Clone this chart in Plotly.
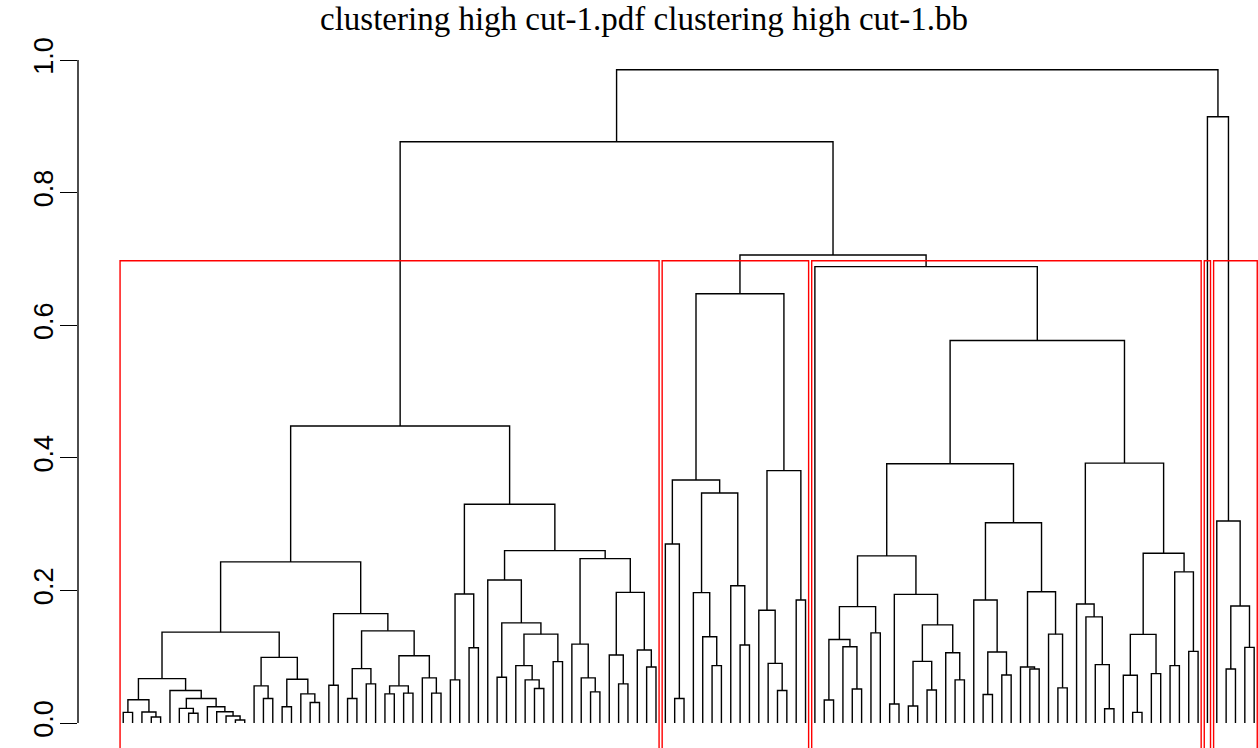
import plotly.graph_objects as go

# ---- data: hierarchical clustering (R hclust style) ----
# leaves are numbered 1..122 in plotted order; negative = leaf, positive = earlier merge (1-based)
n_leaves = 122
merges = [
    (-1, -2), (-4, -5), (-3, 2), (1, 3), (-8, -9), (-7, 5), (-13, -14), (-12, 7), (-11, 8), (-10, 9),
    (6, 10), (-6, 11), (4, 12), (-16, -17), (-15, 14), (-18, -19), (-21, -22), (-20, 17), (16, 18), (15, 19),
    (13, 20), (-23, -24), (-25, -26), (-27, -28), (23, 24), (-29, -30), (-31, -32), (26, 27), (-34, -35), (-33, 29),
    (28, 30), (25, 31), (22, 32), (21, 33), (-36, -37), (-38, -39), (35, 36), (-41, -42), (-45, -46), (-44, 39),
    (-43, 40), (-47, -48), (41, 42), (38, 43), (-40, 44), (-51, -52), (-50, 46), (-49, 47), (-54, -55), (-53, 49),
    (-57, -58), (-56, 51), (50, 52), (48, 53), (45, 54), (37, 55), (34, 56),
    (-60, -61), (-59, 58), (-64, -65), (-63, 60), (-62, 61), (-67, -68), (-66, 63), (62, 64), (59, 65),
    (-71, -72), (-70, 67), (-69, 68), (-73, -74), (69, 70), (66, 71),
    (-76, -77), (-79, -80), (-78, 74), (73, 75), (-81, -82), (76, 77), (-83, -84), (-85, -86), (-87, -88), (80, 81),
    (-90, -91), (-89, 83), (82, 84), (79, 85), (78, 86), (-93, -94), (-95, -96), (88, 89), (-92, 90), (-98, -99),
    (-97, 92), (-101, -102), (-100, 94), (93, 95), (91, 96), (87, 97), (-106, -107), (-105, 99), (-104, 100), (-103, 101),
    (-109, -110), (-108, 103), (-111, -112), (104, 105), (-113, -114), (-115, -116), (107, 108), (106, 109), (102, 110), (98, 111),
    (-75, 112), (72, 113), (57, 114),
    (-119, -120), (-121, -122), (116, 117), (-118, 118), (-117, 119), (115, 120),
]
heights = [
    0.016, 0.009, 0.0165, 0.035, 0.0146, 0.022, 0.0045, 0.0106, 0.017, 0.0246,
    0.037, 0.049, 0.067, 0.037, 0.056, 0.0246, 0.031, 0.044, 0.066, 0.099,
    0.137, 0.057, 0.037, 0.059, 0.082, 0.044, 0.045, 0.056, 0.045, 0.068,
    0.1015, 0.139, 0.165, 0.243, 0.065, 0.1136, 0.1945, 0.069, 0.052, 0.065,
    0.0865, 0.0925, 0.134, 0.151, 0.2157, 0.047, 0.068, 0.119, 0.059, 0.1025,
    0.0845, 0.110, 0.197, 0.248, 0.260, 0.330, 0.448,
    0.037, 0.270, 0.0865, 0.130, 0.1966, 0.1176, 0.207, 0.347, 0.3665,
    0.049, 0.090, 0.170, 0.1855, 0.3806, 0.6475,
    0.0347, 0.0513, 0.115, 0.126, 0.136, 0.1755, 0.0287, 0.0256, 0.0498, 0.093,
    0.065, 0.106, 0.148, 0.194, 0.252, 0.043, 0.0724, 0.107, 0.1855, 0.0814,
    0.0844, 0.053, 0.134, 0.198, 0.302, 0.391, 0.0216, 0.088, 0.160, 0.1795,
    0.016, 0.072, 0.0744, 0.1337, 0.0865, 0.108, 0.228, 0.256, 0.392, 0.577,
    0.6883, 0.7059, 0.8768,
    0.0814, 0.114, 0.1765, 0.3047, 0.9145, 0.9854,
]
n_clusters = 5
title_text = "clustering high cut-1.pdf clustering high cut-1.bb"
tick_vals = [0.0, 0.2, 0.4, 0.6, 0.8, 1.0]
tick_text = ["0.0", "0.2", "0.4", "0.6", "0.8", "1.0"]

# ---- build dendrogram segments ----
node_x = {}
node_lo = {}
node_hi = {}


def info(ref):
    if ref < 0:
        return -ref, 0.0, -ref, -ref
    return node_x[ref], heights[ref - 1], node_lo[ref], node_hi[ref]


seg_x, seg_y = [], []
for j, (a, b) in enumerate(merges, start=1):
    xa, ha, loa, hia = info(a)
    xb, hb, lob, hib = info(b)
    h = heights[j - 1]
    seg_x += [xa, xa, xb, xb, None]
    seg_y += [ha, h, h, hb, None]
    node_x[j] = (xa + xb) / 2
    node_lo[j] = min(loa, lob)
    node_hi[j] = max(hia, hib)

# ---- cut into k clusters (rect.hclust) ----
sorted_h = sorted(heights, reverse=True)
cut = (sorted_h[n_clusters - 2] + sorted_h[n_clusters - 1]) / 2
clusters = []


def collect(ref):
    if ref > 0 and heights[ref - 1] > cut:
        a, b = merges[ref - 1]
        collect(a)
        collect(b)
    else:
        _, _, lo, hi = info(ref)
        clusters.append((lo, hi))


collect(len(merges))
clusters.sort()

ymin = -25 / 663
ymax = (723 - 40) / 663
xmin = 1 - 0.04 * (n_leaves - 1)
xmax = 1 + (1258 - 123.3) / 9.346

rx, ry = [], []
for lo, hi in clusters:
    x0 = lo - 0.34
    x1 = hi + 0.33
    rx += [x0, x0, x1, x1, None]
    ry += [ymin - 0.2, cut, cut, ymin - 0.2, None]

fig = go.Figure()
fig.add_trace(go.Scatter(x=seg_x, y=seg_y, mode="lines",
                         line=dict(color="black", width=1.4), hoverinfo="skip", showlegend=False))
fig.add_trace(go.Scatter(x=rx, y=ry, mode="lines",
                         line=dict(color="#FF0000", width=1.4), hoverinfo="skip", showlegend=False))

fig.add_shape(type="line", xref="paper", yref="y", x0=0, x1=0, y0=0, y1=1.0,
              line=dict(color="black", width=1.4))

fig.add_annotation(text=title_text, xref="paper", yref="paper",
                   x=(644 - 78) / 1180, y=1 + (40 - 19) / 708, xanchor="center", yanchor="middle",
                   borderpad=0, showarrow=False,
                   font=dict(family="Liberation Serif", size=33, color="black"))

fig.update_layout(
    width=1258, height=748,
    margin=dict(l=78, r=0, t=40, b=0),
    plot_bgcolor="white", paper_bgcolor="white",
    xaxis=dict(range=[xmin, xmax], visible=False, showgrid=False, zeroline=False),
    yaxis=dict(range=[ymin, ymax], showgrid=False, zeroline=False, showline=False,
               tickmode="array", tickvals=tick_vals, ticktext=tick_text,
               ticks="outside", ticklen=17, tickwidth=1.4, tickcolor="black",
               ticklabelstandoff=-4,
               tickangle=-90, tickfont=dict(family="Liberation Sans", size=27, color="black")),
)

# remove the page's default 8px body margin so the figure fills the window exactly
fig.write_html("out.html", config={"displayModeBar": False},
               post_script="document.body.style.margin='0';document.body.style.overflow='hidden';")
